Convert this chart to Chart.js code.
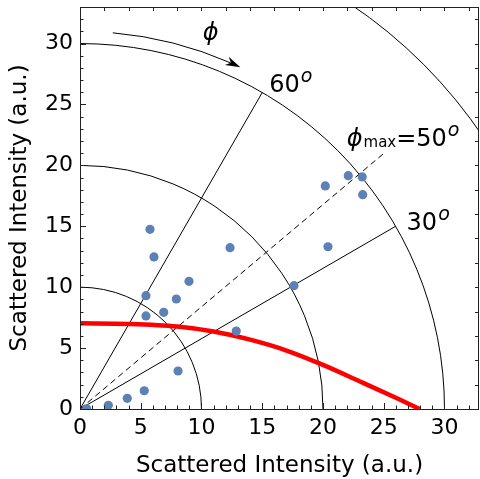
<!DOCTYPE html>
<html>
<head>
<meta charset="utf-8">
<script src="https://cdn.jsdelivr.net/npm/chart.js@4.4.0/dist/chart.umd.min.js"></script>
<style>
  html, body { margin: 0; padding: 0; background: #fff; }
  #wrap { width: 480px; height: 479px; }
</style>
</head>
<body>
<div id="wrap"><canvas id="myChart" width="480" height="479"></canvas></div>
<script>
// measured points (scattered intensity components)
const pointsX = [0.55, 2.33, 3.89, 5.29, 8.07, 5.43, 6.89, 7.93, 5.43, 8.97, 6.09, 5.76, 12.35, 12.86, 17.61, 20.41, 20.19, 22.08, 23.23, 23.27];
const pointsY = [0.02, 0.30, 0.88, 1.50, 3.12, 7.64, 7.94, 9.03, 9.30, 10.48, 12.48, 14.75, 13.24, 6.40, 10.12, 13.32, 18.31, 19.15, 19.05, 17.59];

// red model curve
const curveX = [0, 4, 8, 11, 14, 17, 20, 23, 26, 27.95];
const curveY = [7.03, 6.98, 6.77, 6.36, 5.69, 4.80, 3.62, 2.28, 0.92, 0];

// guide geometry
const ringRadii = [10, 20, 30, 40];
const rayAngles = [30, 60];
const rayLength = 30;
const peakAngle = 40;
const peakLength = 32.8;
const arrowRadius = 31;
const arrowFrom = 85;
const arrowTo = 64.8;

const xTicks = [0, 5, 10, 15, 20, 25, 30];
const yTicks = [0, 5, 10, 15, 20, 25, 30];

const FONT = "'DejaVu Sans', sans-serif";
const deg = Math.PI / 180;

function toXY(xs, ys) {
    return xs.map((v, i) => ({ x: v, y: ys[i] }));
}

function noPad(s) {
    s.paddingTop = 0;
    s.paddingBottom = 0;
    s.paddingLeft = 0;
    s.paddingRight = 0;
}

const guides = {
    id: 'guides',
    afterLayout(chart) {
        // let the plot frame run to the right edge like the original
        const x = chart.scales.x;
        const r = chart.width - 1;
        x.right = r;
        x.width = r - x.left;
        x.configure();
        chart.chartArea.right = r;
        chart.chartArea.width = r - chart.chartArea.left;
    },
    beforeDatasetsDraw(chart) {
        const { ctx, chartArea: a, scales: { x, y } } = chart;
        const ox = x.getPixelForValue(0), oy = y.getPixelForValue(0);
        const rx = r => x.getPixelForValue(r) - ox;
        const ry = r => oy - y.getPixelForValue(r);
        const pt = (r, t) => [x.getPixelForValue(r * Math.cos(t * deg)), y.getPixelForValue(r * Math.sin(t * deg))];
        ctx.save();
        ctx.beginPath();
        ctx.rect(a.left, a.top, a.right - a.left, a.bottom - a.top);
        ctx.clip();
        ctx.strokeStyle = '#000';
        ctx.lineWidth = 1;
        ringRadii.forEach(r => {
            ctx.beginPath();
            ctx.ellipse(ox, oy, rx(r), ry(r), 0, -Math.PI / 2, 0);
            ctx.stroke();
        });
        rayAngles.forEach(t => {
            const p = pt(rayLength, t);
            ctx.beginPath();
            ctx.moveTo(ox, oy);
            ctx.lineTo(p[0], p[1]);
            ctx.stroke();
        });
        // dashed line at the maximum
        const q = pt(peakLength, peakAngle);
        ctx.setLineDash([6, 4]);
        ctx.beginPath();
        ctx.moveTo(ox, oy);
        ctx.lineTo(q[0], q[1]);
        ctx.stroke();
        ctx.setLineDash([]);

        // phi arrow
        const tip = pt(arrowRadius, arrowTo);
        const t = arrowTo * deg;
        let dx = Math.sin(t) * rx(1), dy = Math.cos(t) * ry(1);
        const n = Math.hypot(dx, dy);
        dx /= n; dy /= n;
        const L = 15, W = 4.5;
        const bx = tip[0] - L * dx, by = tip[1] - L * dy;
        const nx = bx + 0.3 * L * dx, ny = by + 0.3 * L * dy;
        const endAng = Math.atan2(ny - oy, nx - ox);
        ctx.beginPath();
        ctx.ellipse(ox, oy, rx(arrowRadius), ry(arrowRadius), 0, -arrowFrom * deg, endAng);
        ctx.stroke();
        ctx.fillStyle = '#000';
        ctx.beginPath();
        ctx.moveTo(tip[0], tip[1]);
        ctx.lineTo(bx - W * dy, by + W * dx);
        ctx.lineTo(nx, ny);
        ctx.lineTo(bx + W * dy, by - W * dx);
        ctx.closePath();
        ctx.fill();
        ctx.restore();
    },
    afterDraw(chart) {
        const { ctx, chartArea: a, scales: { x, y } } = chart;
        ctx.save();
        // frame
        ctx.strokeStyle = '#222';
        ctx.lineWidth = 1;
        ctx.strokeRect(a.left + 0.5, a.top + 0.5, a.right - a.left - 1, a.bottom - a.top);
        // ticks
        ctx.beginPath();
        for (let v = 0; v <= 33; v++) {
            const px = Math.round(x.getPixelForValue(v)) + 0.5;
            if (px < a.right - 1) {
                const len = v % 5 === 0 ? 6 : 3.5;
                ctx.moveTo(px, a.bottom);
                ctx.lineTo(px, a.bottom - len);
                if (v % 2 === 0) {
                    ctx.moveTo(px, a.top);
                    ctx.lineTo(px, a.top + 4);
                }
            }
            const py = Math.round(y.getPixelForValue(v)) + 0.5;
            if (py > a.top + 1) {
                const len = v % 5 === 0 ? 6 : 3.5;
                ctx.moveTo(a.left, py);
                ctx.lineTo(a.left + len, py);
                if (v % 2 === 0) {
                    ctx.moveTo(a.right, py);
                    ctx.lineTo(a.right - 4, py);
                }
            }
        }
        ctx.stroke();

        // labels
        ctx.fillStyle = '#000';
        ctx.textAlign = 'left';
        ctx.textBaseline = 'alphabetic';
        const X = v => x.getPixelForValue(v), Y = v => y.getPixelForValue(v);
        const degLabel = (txt, px, py) => {
            ctx.font = '24px ' + FONT;
            ctx.fillText(txt, px, py);
            const w = ctx.measureText(txt).width;
            ctx.font = 'italic 19px ' + FONT;
            ctx.fillText('o', px + w + 1, py - 10);
        };
        degLabel('60', X(15.58), Y(26.05));
        degLabel('30', X(26.88), Y(14.7));

        // phi_max = 50
        let cx = X(21.95), cy = Y(21.6);
        ctx.font = 'italic 24px ' + FONT;
        ctx.fillText('\u03D5', cx, cy);
        cx += ctx.measureText('\u03D5').width + 1;
        ctx.font = '15px ' + FONT;
        ctx.fillText('max', cx, cy + 1);
        cx += ctx.measureText('max').width;
        ctx.font = '24px ' + FONT;
        ctx.fillText('=50', cx, cy);
        cx += ctx.measureText('=50').width;
        ctx.font = 'italic 19px ' + FONT;
        ctx.fillText('o', cx + 1, cy - 10);

        // phi near the arrow
        ctx.font = 'italic 24px ' + FONT;
        ctx.fillText('\u03D5', X(10.1), Y(30.3));
        ctx.restore();
    }
};

const config = {
    type: 'scatter',
    data: {
        datasets: [{
            label: 'model',
            data: toXY(curveX, curveY),
            showLine: true,
            borderColor: '#ff0000',
            borderWidth: 4.5,
            pointRadius: 0,
            cubicInterpolationMode: 'monotone',
            order: 2
        }, {
            label: 'measured',
            data: toXY(pointsX, pointsY),
            backgroundColor: '#5E81B5',
            borderWidth: 0,
            pointRadius: 4.6,
            order: 1
        }]
    },
    options: {
        responsive: false,
        animation: false,
        layout: { padding: { top: 7, right: 1, left: 0, bottom: 0 } },
        plugins: { legend: { display: false }, tooltip: { enabled: false } },
        scales: {
            x: {
                type: 'linear',
                min: 0,
                max: 32.84,
                grid: { display: false, drawTicks: false },
                border: { display: false },
                afterBuildTicks: s => { s.ticks = xTicks.map(v => ({ value: v })); },
                afterFit: s => { s.height = 70; noPad(s); },
                ticks: { color: '#000', padding: 6, maxRotation: 0, font: { family: FONT, size: 22 } },
                title: { display: true, text: 'Scattered Intensity (a.u.)', color: '#000', padding: 0, font: { family: FONT, size: 23, lineHeight: 1.1 } }
            },
            y: {
                type: 'linear',
                min: 0,
                max: 33,
                grid: { display: false, drawTicks: false },
                border: { display: false },
                afterBuildTicks: s => { s.ticks = yTicks.map(v => ({ value: v })); },
                afterFit: s => { s.width = 80; noPad(s); },
                ticks: { color: '#000', padding: 7, font: { family: FONT, size: 22 } },
                title: { display: true, text: 'Scattered Intensity (a.u.)', color: '#000', padding: { top: 6, bottom: 0 }, font: { family: FONT, size: 23 } }
            }
        }
    },
    plugins: [guides]
};

const myChart = new Chart(document.getElementById('myChart'), config);
</script>
</body>
</html>
